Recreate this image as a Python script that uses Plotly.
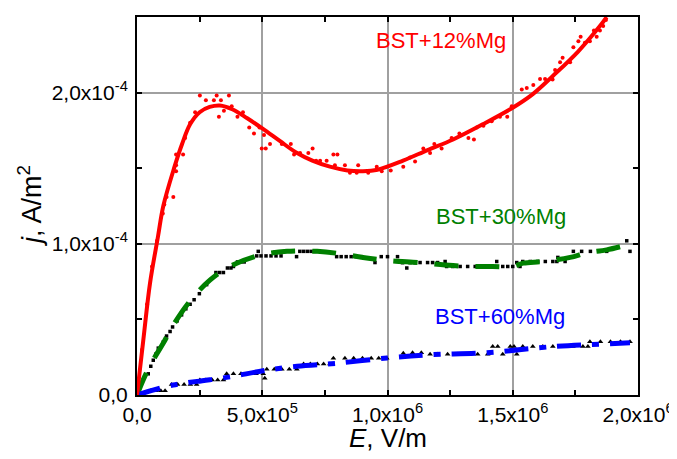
import plotly.graph_objects as go

# ---------------- data (E in V/m, j in A/m^2 x1e-4) ----------------
# BST+12%Mg : fitted curve
red_fit_E = [0, 25e3, 52e3, 84e3, 105e3, 148e3, 180e3, 212e3, 250e3, 290e3, 331e3, 380e3,
             440e3, 503e3, 570e3, 639e3, 700e3, 770e3, 840e3, 902e3, 960e3, 1.062e6,
             1.16e6, 1.262e6, 1.38e6, 1.50e6, 1.58e6, 1.66e6, 1.76e6, 1.848e6, 1.875e6]
red_fit_j = [0, 0.36, 0.74, 1.05, 1.25, 1.50, 1.66, 1.79, 1.87, 1.905, 1.915, 1.89,
             1.83, 1.76, 1.68, 1.60, 1.55, 1.51, 1.485, 1.48, 1.49, 1.55,
             1.62, 1.69, 1.79, 1.90, 1.99, 2.11, 2.27, 2.44, 2.50]

# BST+12%Mg : measured points
red_pts_E = [20e3, 40e3, 60e3, 80e3, 103e3, 109e3, 118e3, 145e3, 156e3, 156e3, 156e3, 184e3,
             192e3, 212e3, 232e3, 251e3, 275e3, 307e3, 318e3, 327e3, 335e3, 347e3, 367e3,
             378e3, 401e3, 423e3, 448e3, 467e3, 489e3, 498e3, 514e3, 507e3, 531e3, 578e3,
             614e3, 627e3, 651e3, 684e3, 701e3, 715e3, 731e3, 757e3, 784e3, 800e3, 790e3,
             830e3, 850e3, 877e3, 883e3, 923e3, 957e3, 977e3, 1.013e6, 1.063e6, 1.090e6,
             1.110e6, 1.143e6, 1.170e6, 1.187e6, 1.216e6, 1.256e6, 1.287e6, 1.323e6, 1.345e6,
             1.356e6, 1.383e6, 1.416e6, 1.449e6, 1.478e6, 1.496e6, 1.536e6, 1.556e6, 1.582e6,
             1.609e6, 1.629e6, 1.659e6, 1.669e6, 1.689e6, 1.699e6, 1.729e6, 1.742e6, 1.762e6,
             1.771e6, 1.788e6, 1.808e6, 1.824e6, 1.835e6, 1.848e6, 1.861e6, 1.872e6]
red_pts_j = [0.30, 0.60, 0.85, 1.02, 1.20, 1.26, 1.31, 1.31, 1.48, 1.52, 1.59, 1.59,
             1.70, 1.80, 1.87, 1.98, 1.95, 1.95, 1.98, 1.84, 1.95, 1.88, 1.98,
             1.91, 1.84, 1.87, 1.77, 1.73, 1.77, 1.63, 1.63, 1.72, 1.66, 1.66,
             1.66, 1.59, 1.60, 1.60, 1.63, 1.55, 1.55, 1.55, 1.59, 1.59, 1.52,
             1.52, 1.47, 1.47, 1.52, 1.47, 1.51, 1.48, 1.485, 1.51, 1.57,
             1.545, 1.63, 1.60, 1.66, 1.63, 1.70, 1.73, 1.70, 1.69,
             1.77, 1.78, 1.81, 1.84, 1.84, 1.91, 2.02, 2.03, 2.05,
             2.09, 2.09, 2.086, 2.15, 2.20, 2.23, 2.20, 2.30, 2.34,
             2.37, 2.33, 2.34, 2.41, 2.37, 2.41, 2.44, 2.48]

# BST+30%Mg : fitted curve
green_fit_E = [0, 30e3, 64e3, 104e3, 144e3, 211e3, 291e3, 371e3, 479e3, 599e3, 719e3, 810e3,
               902e3, 1.0e6, 1.13e6, 1.23e6, 1.33e6, 1.42e6, 1.50e6, 1.542e6, 1.62e6, 1.729e6,
               1.795e6, 1.875e6, 1.968e6]
green_fit_j = [0, 0.12, 0.23, 0.34, 0.46, 0.62, 0.76, 0.85, 0.92, 0.95, 0.95, 0.935,
               0.91, 0.89, 0.875, 0.86, 0.85, 0.85, 0.85, 0.872, 0.883, 0.91,
               0.94, 0.96, 0.998]

# BST+30%Mg : measured points
green_pts_E = [45e3, 55e3, 65e3, 75e3, 85e3, 105e3, 118e3, 132e3, 142e3, 160e3, 178e3, 195e3,
               212e3, 228e3, 249e3, 278e3, 315e3, 330e3, 345e3, 361e3, 375e3, 385e3, 401e3,
               415e3, 428e3, 478e3, 484e3, 495e3, 515e3, 535e3, 551e3, 555e3, 575e3, 637e3,
               650e3, 665e3, 680e3, 695e3, 711e3, 797e3, 815e3, 835e3, 855e3, 875e3, 895e3,
               950e3, 975e3, 1.0e6, 1.04e6, 1.06e6, 1.077e6, 1.09e6, 1.11e6, 1.13e6, 1.16e6,
               1.18e6, 1.20e6, 1.23e6, 1.236e6, 1.26e6, 1.29e6, 1.32e6, 1.35e6, 1.37e6,
               1.436e6, 1.46e6, 1.48e6, 1.50e6, 1.516e6, 1.529e6, 1.54e6, 1.57e6, 1.60e6,
               1.63e6, 1.66e6, 1.676e6, 1.68e6, 1.709e6, 1.742e6, 1.775e6, 1.81e6, 1.845e6,
               1.875e6, 1.955e6, 1.968e6]
green_pts_j = [0.14, 0.19, 0.23, 0.27, 0.31, 0.35, 0.39, 0.42, 0.45, 0.49, 0.53, 0.57,
               0.60, 0.63, 0.67, 0.73, 0.81, 0.81, 0.81, 0.84, 0.84, 0.85, 0.88,
               0.88, 0.88, 0.92, 0.95, 0.92, 0.92, 0.92, 0.945, 0.92, 0.92, 0.915,
               0.95, 0.95, 0.95, 0.95, 0.95, 0.915, 0.915, 0.915, 0.915, 0.915, 0.915,
               0.876, 0.915, 0.915, 0.915, 0.875, 0.84, 0.875, 0.875, 0.876, 0.876,
               0.876, 0.876, 0.883, 0.85, 0.85, 0.85, 0.85, 0.85, 0.85,
               0.883, 0.85, 0.85, 0.85, 0.876, 0.85, 0.883, 0.883, 0.883,
               0.883, 0.883, 0.883, 0.91, 0.883, 0.95, 0.95, 0.95, 0.95,
               0.95, 1.02, 0.95]

# BST+60%Mg : fitted curve
blue_fit_E = [0, 60e3, 144e3, 240e3, 371e3, 503e3, 639e3, 798e3, 998e3, 1.158e6, 1.397e6,
              1.66e6, 1.968e6]
blue_fit_j = [0, 0.03, 0.066, 0.09, 0.12, 0.16, 0.19, 0.21, 0.245, 0.265, 0.28,
              0.32, 0.345]

# BST+60%Mg : measured points
blue_pts_E = [55e3, 75e3, 95e3, 112e3, 138e3, 162e3, 188e3, 213e3, 238e3, 251e3, 275e3,
              300e3, 322e3, 345e3, 358e3, 385e3, 415e3, 445e3, 475e3, 504e3, 510e3, 518e3,
              548e3, 578e3, 608e3, 638e3, 665e3, 692e3, 720e3, 745e3, 770e3, 784e3, 830e3,
              865e3, 900e3, 935e3, 965e3, 997e3, 1.063e6, 1.10e6, 1.135e6, 1.17e6, 1.20e6,
              1.24e6, 1.28e6, 1.32e6, 1.36e6, 1.40e6, 1.42e6, 1.44e6, 1.46e6, 1.49e6,
              1.505e6, 1.516e6, 1.54e6, 1.58e6, 1.62e6, 1.66e6, 1.70e6, 1.74e6, 1.78e6,
              1.80e6, 1.808e6, 1.85e6, 1.89e6, 1.93e6, 1.968e6]
blue_pts_j = [0.028, 0.028, 0.028, 0.028, 0.07, 0.07, 0.07, 0.07, 0.07, 0.10, 0.10,
              0.10, 0.10, 0.10, 0.14, 0.14, 0.14, 0.14, 0.14, 0.14, 0.11, 0.17,
              0.17, 0.17, 0.17, 0.17, 0.205, 0.205, 0.205, 0.205, 0.205, 0.243, 0.243,
              0.243, 0.243, 0.243, 0.243, 0.243, 0.276, 0.28, 0.28, 0.27, 0.27,
              0.27, 0.27, 0.27, 0.27, 0.27, 0.32, 0.32, 0.27, 0.32,
              0.32, 0.27, 0.32, 0.32, 0.32, 0.32, 0.32, 0.32, 0.32,
              0.32, 0.353, 0.353, 0.353, 0.353, 0.353]

# axis ticks
x_tickvals = [0, 5e5, 1e6, 1.5e6, 2e6]
x_ticktext = ["0,0", "5,0x10<sup>5</sup>", "1,0x10<sup>6</sup>", "1,5x10<sup>6</sup>", "2,0x10<sup>6</sup>"]
y_tickvals = [0, 1e-4, 2e-4]
y_ticktext = ["0,0", "1,0x10<sup>-4</sup>", "2,0x10<sup>-4</sup>"]

labels = ["BST+12%Mg", "BST+30%Mg", "BST+60%Mg"]
x_title = "<i>E</i>, V/m"
y_title = "<i>j</i>, A/m<sup>2</sup>"
SCALE = 1e-4


def sc(vals):
    return [v * SCALE for v in vals]


FONT = "Liberation Sans, Arial, sans-serif"

fig = go.Figure()

# measured points
fig.add_trace(go.Scatter(x=green_pts_E, y=sc(green_pts_j), mode="markers",
                         marker=dict(symbol="square", size=3.5, color="black"), showlegend=False))
fig.add_trace(go.Scatter(x=blue_pts_E, y=sc(blue_pts_j), mode="markers",
                         marker=dict(symbol="triangle-up", size=5, color="black"), showlegend=False))
fig.add_trace(go.Scatter(x=red_pts_E, y=sc(red_pts_j), mode="markers",
                         marker=dict(symbol="circle", size=4, color="#ff0000"), showlegend=False))

# fitted curves
fig.add_trace(go.Scatter(x=green_fit_E, y=sc(green_fit_j), mode="lines",
                         line=dict(color="#008000", width=5, dash="24px,17px", shape="spline"),
                         showlegend=False))
fig.add_trace(go.Scatter(x=blue_fit_E, y=sc(blue_fit_j), mode="lines",
                         line=dict(color="#0000ff", width=5, dash="24px,11px,7px,11px", shape="spline"),
                         showlegend=False))
fig.add_trace(go.Scatter(x=red_fit_E, y=sc(red_fit_j), mode="lines",
                         line=dict(color="#ff0000", width=4, shape="spline"),
                         showlegend=False))

# curve labels
fig.add_annotation(x=1.214e6, y=2.345e-4, text=labels[0], showarrow=False,
                   font=dict(family=FONT, size=22, color="#ff0000"))
fig.add_annotation(x=1.453e6, y=1.18e-4, text=labels[1], showarrow=False,
                   font=dict(family=FONT, size=22, color="#008000"))
fig.add_annotation(x=1.449e6, y=0.517e-4, text=labels[2], showarrow=False,
                   font=dict(family=FONT, size=22, color="#0000ff"))

# axis titles (placed as annotations for precise placement)
fig.add_annotation(xref="paper", yref="paper", x=0.5, y=-0.114, text=x_title, showarrow=False,
                   xanchor="center", yanchor="middle",
                   font=dict(family=FONT, size=26, color="black"))
fig.add_annotation(xref="paper", yref="paper", x=-0.2136, y=0.5, text=y_title, showarrow=False,
                   xanchor="center", yanchor="middle", textangle=-90,
                   font=dict(family=FONT, size=27, color="black"))

axis_common = dict(
    showline=True, linecolor="black", linewidth=2, mirror="ticks",
    ticks="inside", ticklen=5, tickwidth=1.5, tickcolor="black",
    showgrid=True, gridcolor="#a0a0a0", gridwidth=1.5,
    zeroline=False,
    tickfont=dict(family=FONT, size=21, color="black"),
)

fig.update_xaxes(
    range=[0, 2e6], tickvals=x_tickvals, ticktext=x_ticktext,
    minor=dict(ticks="inside", ticklen=5, tickwidth=1.5, tickcolor="black", dtick=2.5e5, tick0=0, showgrid=False),
    **axis_common,
)
fig.update_yaxes(
    range=[0, 2.5e-4], tickvals=y_tickvals, ticktext=y_ticktext,
    minor=dict(ticks="inside", ticklen=5, tickwidth=1.5, tickcolor="black", dtick=5e-5, tick0=0, showgrid=False),
    ticklabelstandoff=3,
    **axis_common,
)

# page body has an 8px default margin, so the plot area is offset accordingly
fig.update_layout(
    width=677, height=459,
    margin=dict(l=129, r=47, t=9, b=72, autoexpand=False),
    paper_bgcolor="white", plot_bgcolor="white",
    font=dict(family=FONT),
    showlegend=False,
)

fig.write_html("out.html")
